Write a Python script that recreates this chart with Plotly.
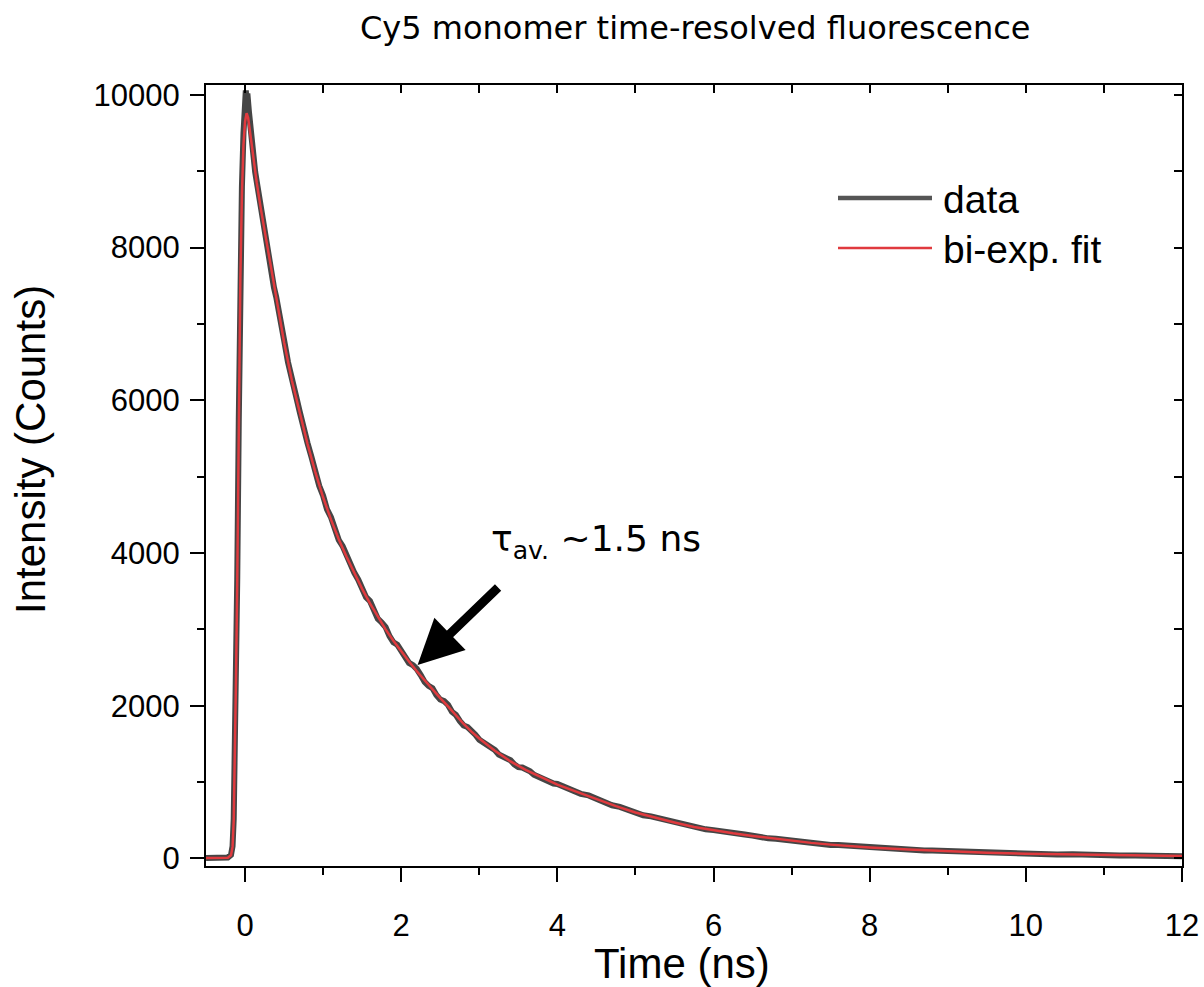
import plotly.graph_objects as go

# ---- data ----
data_t = [-0.50, -0.40, -0.30, -0.22, -0.18, -0.16, -0.145, -0.13, -0.115, -0.10, -0.08, -0.06, -0.04, -0.02,
          0.00, 0.01, 0.02, 0.03, 0.05, 0.07, 0.09, 0.11, 0.13, 0.16, 0.19, 0.22, 0.25, 0.28, 0.31, 0.34, 0.37,
          0.40, 0.45, 0.50, 0.55, 0.60, 0.65, 0.70, 0.75, 0.80, 0.85, 0.90, 0.95, 1.00, 1.05, 1.10, 1.15, 1.20,
          1.25, 1.30, 1.35, 1.40, 1.45, 1.50, 1.55, 1.60, 1.65, 1.70, 1.75, 1.80, 1.85, 1.90, 1.95, 2.00, 2.05,
          2.10, 2.15, 2.20, 2.25, 2.30, 2.35, 2.40, 2.45, 2.50, 2.55, 2.60, 2.65, 2.70, 2.75, 2.80, 2.85, 2.90,
          2.95, 3.00, 3.05, 3.10, 3.15, 3.20, 3.25, 3.30, 3.35, 3.40, 3.45, 3.50, 3.55, 3.60, 3.65, 3.70, 3.75,
          3.80, 3.85, 3.90, 3.95, 4.00, 4.10, 4.20, 4.30, 4.40, 4.50, 4.60, 4.70, 4.80, 4.90, 5.00, 5.10, 5.20,
          5.30, 5.40, 5.50, 5.60, 5.70, 5.80, 5.90, 6.00, 6.10, 6.20, 6.30, 6.40, 6.50, 6.60, 6.70, 6.80, 6.90,
          7.00, 7.10, 7.20, 7.30, 7.40, 7.50, 7.60, 7.70, 7.80, 7.90, 8.00, 8.10, 8.20, 8.30, 8.40, 8.50, 8.60,
          8.70, 8.80, 8.90, 9.00, 9.20, 9.40, 9.60, 9.80, 10.00, 10.20, 10.40, 10.60, 10.80, 11.00, 11.20, 11.40,
          11.60, 11.80, 12.00]
data_counts = [4, 6, 3, 12, 45, 160, 520, 1350, 2450, 3650, 5750, 7650, 8800, 9500,
               9900, 10060, 9880, 10020, 9780, 9560, 9320, 9170, 8990, 8800, 8600, 8420, 8230, 8080, 7860, 7720, 7480,
               7350, 7020, 6790, 6500, 6240, 6070, 5850, 5610, 5440, 5260, 5040, 4880, 4750, 4570, 4470, 4290, 4170,
               4090, 3970, 3820, 3740, 3650, 3510, 3420, 3370, 3260, 3140, 3090, 3030, 2910, 2830, 2800, 2730, 2630,
               2560, 2530, 2480, 2400, 2310, 2260, 2230, 2140, 2080, 2060, 2010, 1920, 1880, 1800, 1740, 1720, 1680,
               1620, 1555, 1520, 1500, 1465, 1420, 1360, 1330, 1320, 1285, 1230, 1195, 1190, 1170, 1140, 1095, 1070,
               1065, 1040, 1000, 980, 975, 935, 880, 845, 825, 780, 735, 695, 675, 640, 595, 565, 550,
               525, 490, 462, 452, 428, 396, 380, 370, 352, 330, 318, 312, 298, 276, 262, 258, 246,
               226, 216, 212, 200, 185, 176, 175, 168, 152, 146, 145, 139, 128, 122, 123, 117, 107,
               104, 103, 99, 90, 82, 81, 69, 70, 59, 61, 51, 53, 43, 46, 37, 39,
               32, 34, 27]

fit_t = [-0.50, -0.22, -0.18, -0.16, -0.145, -0.13, -0.115, -0.10, -0.08, -0.06, -0.04, -0.02, 0.00, 0.02,
         0.04, 0.07, 0.10, 0.15, 0.20, 0.30, 0.40, 0.50, 0.60, 0.70, 0.80, 0.90, 1.00, 1.10, 1.20, 1.30, 1.40,
         1.50, 1.60, 1.70, 1.80, 1.90, 2.00, 2.10, 2.20, 2.30, 2.40, 2.50, 2.60, 2.70, 2.80, 2.90, 3.00, 3.20,
         3.40, 3.60, 3.80, 4.00, 4.25, 4.50, 4.75, 5.00, 5.25, 5.50, 5.75, 6.00, 6.25, 6.50, 6.75, 7.00, 7.25,
         7.50, 7.75, 8.00, 8.50, 9.00, 9.50, 10.00, 10.50, 11.00, 11.50, 12.00]
fit_counts = [5, 8, 40, 150, 500, 1300, 2400, 3600, 5700, 7600, 8700, 9350, 9650, 9760,
              9700, 9450, 9200, 8850, 8520, 7950, 7330, 6760, 6260, 5830, 5430, 5060, 4730, 4440, 4180, 3950, 3730,
              3530, 3340, 3160, 3000, 2850, 2710, 2580, 2450, 2330, 2210, 2100, 1990, 1870, 1760, 1660, 1570, 1410,
              1270, 1155, 1055, 965, 870, 775, 685, 600, 530, 470, 410, 365, 328, 293, 260, 230, 203,
              180, 160, 142, 115, 92, 75, 62, 52, 43, 36, 30]

x_tickvals = [0, 2, 4, 6, 8, 10, 12]
x_ticktext = ["0", "2", "4", "6", "8", "10", "12"]
y_tickvals = [0, 2000, 4000, 6000, 8000, 10000]
y_ticktext = ["0", "2000", "4000", "6000", "8000", "10000"]
x_range = [-0.5, 12]
y_range = [-100, 10130]

series_names = ["data", "bi-exp. fit"]
title_text = "Cy5 monomer time-resolved fluorescence"
x_title = "Time (ns)"
y_title = "Intensity (Counts)"
note_text = "τ<sub>av.</sub> ~1.5 ns"
arrow_tip = (2.21, 2532)
arrow_tail = (3.26, 3567)

GRAY = "#454545"
RED = "#E03A3E"

# plot area in pixels
L, R, T, B = 206, 1182, 85, 866
W, H = 1204, 987

def px(xp):
    return (xp - L) / (R - L)

def py(yp):
    return (B - yp) / (B - T)

fig = go.Figure()
fig.add_trace(go.Scatter(x=data_t, y=data_counts, mode="lines", name=series_names[0],
                         line=dict(color=GRAY, width=6), showlegend=False))
fig.add_trace(go.Scatter(x=fit_t, y=fit_counts, mode="lines", name=series_names[1],
                         line=dict(color=RED, width=2.5), showlegend=False))

axis_common = dict(showgrid=False, zeroline=False, showline=True, linecolor="black", linewidth=2,
                   tickcolor="black", tickwidth=2, automargin=False)

fig.update_layout(
    width=W, height=H,
    margin=dict(l=L, r=W - R, t=T, b=H - B, pad=0, autoexpand=False),
    paper_bgcolor="white", plot_bgcolor="white",
    xaxis=dict(range=x_range, tickvals=x_tickvals, ticktext=x_ticktext, ticks="outside", ticklen=14,
               ticklabelstandoff=17,
               tickfont=dict(family="Liberation Sans, Arial", size=31, color="black"),
               minor=dict(dtick=1, tick0=1, ticks="outside", ticklen=7, tickwidth=2, tickcolor="black"),
               **axis_common),
    yaxis=dict(range=y_range, tickvals=y_tickvals, ticktext=y_ticktext, ticks="outside", ticklen=14,
               ticklabelstandoff=4,
               tickfont=dict(family="Liberation Sans, Arial", size=31, color="black"),
               minor=dict(dtick=1000, tick0=1000, ticks="outside", ticklen=7, tickwidth=2, tickcolor="black"),
               **axis_common),
    xaxis2=dict(range=x_range, overlaying="x", side="top", dtick=1, tick0=0, ticks="inside", ticklen=8,
                showticklabels=False, **axis_common),
    yaxis2=dict(range=y_range, overlaying="y", side="right", dtick=1000, tick0=0, ticks="inside", ticklen=8,
                showticklabels=False, **axis_common),
    showlegend=False,
)

# invisible helper trace so the mirrored top/right axes are drawn
fig.add_trace(go.Scatter(x=[x_range[0]], y=[y_range[0]], xaxis="x2", yaxis="y2", mode="markers",
                         marker=dict(opacity=0), hoverinfo="skip", showlegend=False))

ann = []
# title
ann.append(dict(text=title_text, xref="paper", yref="paper", x=px(695), y=py(28), xanchor="center",
                yanchor="middle", showarrow=False,
                font=dict(family="DejaVu Sans", size=32, color="black")))
# axis titles
ann.append(dict(text=x_title, xref="paper", yref="paper", x=px(682), y=py(964), xanchor="center",
                yanchor="middle", showarrow=False,
                font=dict(family="Liberation Sans, Arial", size=42, color="black")))
ann.append(dict(text=y_title, xref="paper", yref="paper", x=px(30), y=py(450), xanchor="center",
                yanchor="middle", showarrow=False, textangle=-90,
                font=dict(family="Liberation Sans, Arial", size=42, color="black")))
# legend texts
ann.append(dict(text=series_names[0], xref="paper", yref="paper", x=px(941), y=py(199), xanchor="left",
                yanchor="middle", showarrow=False,
                font=dict(family="Liberation Sans, Arial", size=39, color="black")))
ann.append(dict(text=series_names[1], xref="paper", yref="paper", x=px(941), y=py(249), xanchor="left",
                yanchor="middle", showarrow=False,
                font=dict(family="Liberation Sans, Arial", size=39, color="black")))
# tau note
ann.append(dict(text=note_text, xref="x", yref="y", x=3.13, y=4150, xanchor="left", yanchor="middle",
                showarrow=False, font=dict(family="DejaVu Sans", size=36, color="black")))
# arrow
ann.append(dict(text="", x=arrow_tip[0], y=arrow_tip[1], ax=arrow_tail[0], ay=arrow_tail[1],
                xref="x", yref="y", axref="x", ayref="y", showarrow=True, arrowhead=2,
                arrowwidth=9, arrowsize=1, arrowcolor="black", standoff=0, startstandoff=0))
fig.update_layout(annotations=ann)

fig.add_shape(type="line", xref="paper", yref="paper", x0=px(838), x1=px(932), y0=py(198), y1=py(198),
              line=dict(color="#555555", width=4.5))
fig.add_shape(type="line", xref="paper", yref="paper", x0=px(838), x1=px(932), y0=py(248), y1=py(248),
              line=dict(color=RED, width=2.5))

fig.write_html("out.html")
